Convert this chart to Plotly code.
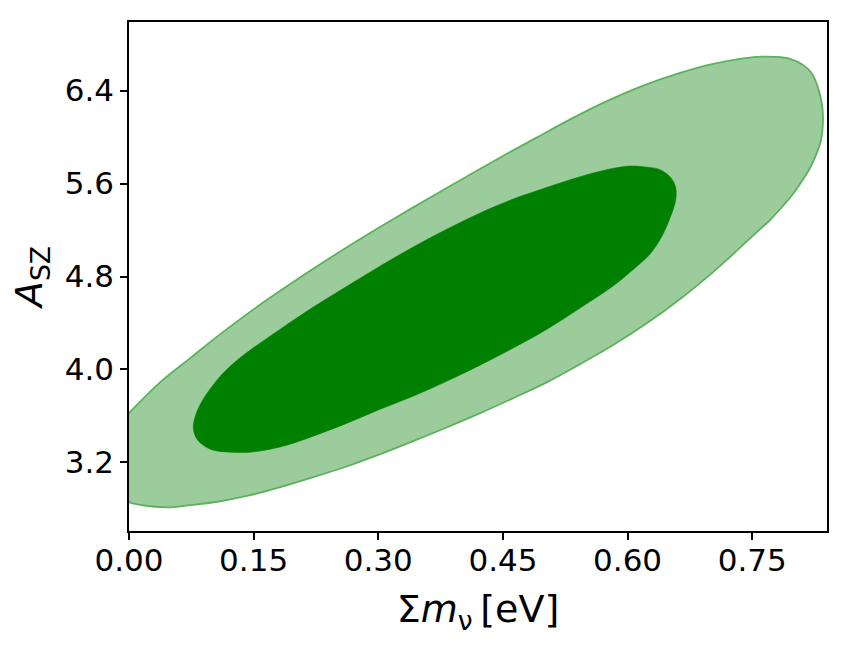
import plotly.graph_objects as go

# 95% contour (outer) (parts left of x=0 are clipped by the axes)
outer_x = [0.000, 0.0256, 0.0497, 0.0737, 0.1098, 0.1459, 0.1820, 0.2217, 0.2626, 0.3023,
           0.3420, 0.3829, 0.4226, 0.4623, 0.5032, 0.5429, 0.5826, 0.6235, 0.6632, 0.7029,
           0.7233, 0.7438, 0.7582, 0.7714, 0.7859, 0.7991, 0.8099, 0.8196, 0.8268, 0.8328,
           0.8352, 0.8340, 0.8292, 0.8220, 0.8111, 0.7955, 0.7775, 0.7558, 0.7354, 0.7029,
           0.6632, 0.6151, 0.5706, 0.5321, 0.4900, 0.4479, 0.4057, 0.3636, 0.3203, 0.2782,
           0.2361, 0.1940, 0.1519, 0.1098, 0.0737, 0.0377, 0.000, -0.0129, -0.0224, -0.0273,
           -0.0273, -0.0224, -0.0129]
outer_y = [2.857, 2.823, 2.814, 2.832, 2.866, 2.918, 2.987, 3.073, 3.167, 3.271,
           3.383, 3.503, 3.624, 3.753, 3.891, 4.046, 4.210, 4.399, 4.606, 4.838,
           4.968, 5.105, 5.200, 5.286, 5.398, 5.510, 5.622, 5.734, 5.846, 5.975,
           6.148, 6.277, 6.423, 6.544, 6.621, 6.673, 6.690, 6.690, 6.673, 6.630,
           6.552, 6.432, 6.294, 6.156, 5.993, 5.829, 5.657, 5.484, 5.304, 5.123,
           4.933, 4.735, 4.528, 4.304, 4.098, 3.891, 3.624, 3.521, 3.391, 3.262,
           3.133, 3.004, 2.909]

# 68% contour (inner)
inner_x = [0.0773, 0.0810, 0.0894, 0.1014, 0.1219, 0.1459, 0.1700, 0.1940, 0.2217, 0.2626,
           0.3023, 0.3420, 0.3829, 0.4226, 0.4623, 0.5032, 0.5429, 0.5826, 0.6090, 0.6271,
           0.6415, 0.6511, 0.6572, 0.6584, 0.6548, 0.6475, 0.6367, 0.6211, 0.6030, 0.5850,
           0.5585, 0.5188, 0.4900, 0.4623, 0.4226, 0.3829, 0.3420, 0.3023, 0.2626, 0.2217,
           0.1820, 0.1459, 0.1219, 0.1038, 0.0894, 0.0810]
inner_y = [3.503, 3.409, 3.348, 3.305, 3.288, 3.288, 3.314, 3.357, 3.426, 3.538,
           3.658, 3.770, 3.900, 4.037, 4.184, 4.347, 4.528, 4.718, 4.873, 4.993,
           5.148, 5.304, 5.433, 5.545, 5.622, 5.683, 5.726, 5.743, 5.751, 5.734,
           5.691, 5.605, 5.536, 5.467, 5.347, 5.209, 5.054, 4.890, 4.718, 4.537,
           4.347, 4.167, 4.029, 3.891, 3.745, 3.624]

x_ticks = [0.00, 0.15, 0.30, 0.45, 0.60, 0.75]
y_ticks = [3.2, 4.0, 4.8, 5.6, 6.4]

fig = go.Figure()
fig.add_trace(go.Scatter(
    x=outer_x + outer_x[:1], y=outer_y + outer_y[:1], mode="lines", fill="toself",
    fillcolor="#9ccc9c", line=dict(color="#5cb25c", width=1.8, shape="spline", smoothing=1.0),
    hoverinfo="skip", showlegend=False))
fig.add_trace(go.Scatter(
    x=inner_x + inner_x[:1], y=inner_y + inner_y[:1], mode="lines", fill="toself",
    fillcolor="#008000", line=dict(color="#008000", width=0.5, shape="spline", smoothing=1.0),
    hoverinfo="skip", showlegend=False))

axis_common = dict(
    showgrid=False, zeroline=False, showline=True, linecolor="black", linewidth=1.5,
    mirror=True, ticks="outside", ticklen=7, tickwidth=1.5, tickcolor="black",
    tickfont=dict(family="DejaVu Sans", size=31, color="black"),
)

fig.update_layout(
    width=850, height=651,
    margin=dict(l=129, r=23, t=22, b=120),
    paper_bgcolor="white", plot_bgcolor="white",
    font=dict(family="DejaVu Sans", color="black"),
    xaxis=dict(range=[0, 0.84], tickvals=x_ticks, tickformat=".2f", ticklabelstandoff=-6,
               title=dict(text="Σ<i>m</i><sub>ν</sub>\u2009[eV]",
                          font=dict(family="DejaVu Sans", size=38), standoff=18),
               **axis_common),
    yaxis=dict(range=[2.61, 6.99], tickvals=y_ticks, tickformat=".1f",
               title=dict(text="<i>A</i><sub>SZ</sub>",
                          font=dict(family="DejaVu Sans", size=38), standoff=10),
               **axis_common),
)

fig.write_html("out.html")
